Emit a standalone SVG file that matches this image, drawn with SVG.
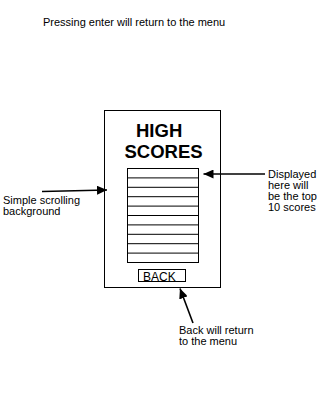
<svg xmlns="http://www.w3.org/2000/svg" width="328" height="400" viewBox="0 0 328 400">
  <style>
    .note { font-family: "Liberation Sans", Arial, sans-serif; font-size: 11px; fill: #000; }
    .title { font-family: "Liberation Sans", Arial, sans-serif; font-size: 18.5px; font-weight: bold; fill: #000; }
    .box { fill: none; stroke: #000; stroke-width: 1; }
    .arrow { fill: none; stroke: #000; stroke-width: 1.6; marker-end: url(#head); }
  </style>
  <defs>
    <marker id="head" markerUnits="userSpaceOnUse" markerWidth="11" markerHeight="9" refX="10" refY="4.5" orient="auto">
      <path d="M0,0 L10,4.5 L0,9 Z" fill="#000"/>
    </marker>
  </defs>
  <rect width="328" height="400" fill="#fff"/>

  <g id="enter-note">
    <text class="note" x="43" y="26">Pressing enter will return to the menu</text>
  </g>

  <g id="screen">
    <rect class="box" x="104.5" y="110.5" width="116" height="177"/>
    <text class="title" x="136" y="137">HIGH</text>
    <text class="title" x="124.5" y="158">SCORES</text>
  </g>

  <g id="score-table">
    <rect class="box" x="127.5" y="168.5" width="71" height="94"/>
    <path class="box" d="M127.5,177.9H198.5 M127.5,187.3H198.5 M127.5,196.7H198.5 M127.5,206.1H198.5 M127.5,215.5H198.5 M127.5,224.9H198.5 M127.5,234.3H198.5 M127.5,243.7H198.5 M127.5,253.1H198.5"/>
  </g>

  <g id="back-button">
    <rect class="box" x="138.5" y="269.5" width="47" height="12"/>
    <text x="143" y="280.5" font-family="Liberation Sans, Arial, sans-serif" font-size="12px" fill="#000">BACK</text>
  </g>

  <g id="background-note">
    <text class="note" x="3" y="204">Simple scrolling</text>
    <text class="note" x="3" y="215">background</text>
  </g>

  <g id="scores-note">
    <text class="note" x="268" y="178">Displayed</text>
    <text class="note" x="268" y="189">here will</text>
    <text class="note" x="268" y="200">be the top</text>
    <text class="note" x="268" y="210.5">10 scores</text>
  </g>

  <g id="back-note">
    <text class="note" x="179" y="334">Back will return</text>
    <text class="note" x="179" y="345">to the menu</text>
  </g>

  <g id="connectors">
    <line class="arrow" x1="42" y1="191.5" x2="107" y2="190"/>
    <line class="arrow" x1="265" y1="174" x2="203.5" y2="174"/>
    <line class="arrow" x1="193" y1="323" x2="180" y2="288.5"/>
  </g>
</svg>
